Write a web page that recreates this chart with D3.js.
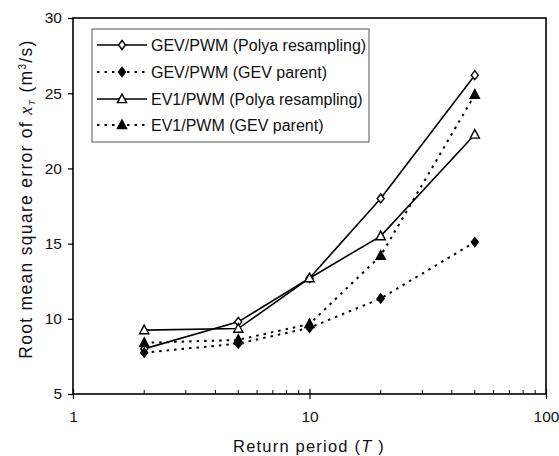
<!DOCTYPE html>
<html><head><meta charset="utf-8">
<script src="https://cdn.jsdelivr.net/npm/d3@7"></script>
<style>body{margin:0;background:#fff}svg{display:block}text{font-family:"Liberation Sans",Arial,sans-serif;fill:#111}</style>
</head><body>
<svg id="c" width="559" height="456"></svg>
<script>
const periods = [2, 5, 10, 20, 50];
const gevPolya = [8.0, 9.8, 12.7, 18.0, 26.2];
const gevParent = [7.75, 8.35, 9.4, 11.35, 15.1];
const ev1Polya = [9.25, 9.35, 12.7, 15.5, 22.25];
const ev1Parent = [8.4, 8.6, 9.65, 14.2, 24.9];
const seriesNames = ["GEV/PWM (Polya resampling)", "GEV/PWM (GEV parent)", "EV1/PWM (Polya resampling)", "EV1/PWM (GEV parent)"];
const xTicks = [1, 10, 100];
const yTicks = [5, 10, 15, 20, 25, 30];

const series = [
  {name: seriesNames[0], values: gevPolya, dashed: false, shape: "diamond", filled: false},
  {name: seriesNames[1], values: gevParent, dashed: true, shape: "diamond", filled: true},
  {name: seriesNames[2], values: ev1Polya, dashed: false, shape: "triangle", filled: false},
  {name: seriesNames[3], values: ev1Parent, dashed: true, shape: "triangle", filled: true}
];

const svg = d3.select("#c");
const L = 73, R = 546, T = 18, B = 394;
const x = d3.scaleLog().domain([1, 100]).range([L, R]);
const y = d3.scaleLinear().domain([5, 30]).range([B, T]);

// frame
svg.append("rect").attr("x", L).attr("y", T).attr("width", R - L).attr("height", B - T)
  .attr("fill", "none").attr("stroke", "#000").attr("stroke-width", 1.6);

// y axis
const yAxis = svg.append("g").attr("transform", `translate(${L},0)`)
  .call(d3.axisLeft(y).tickValues(yTicks).tickSize(5).tickPadding(6));
yAxis.select(".domain").remove();
yAxis.selectAll("text").attr("font-size", 15.5);
yAxis.selectAll("line").attr("stroke-width", 1.2);

// x axis
const minor = [];
[1, 10].forEach(d => { for (let k = 2; k <= 9; k++) minor.push(d * k); });
const xAxis = svg.append("g").attr("transform", `translate(0,${B})`)
  .call(d3.axisBottom(x).tickValues(xTicks).tickFormat(d3.format("d")).tickSize(5).tickPadding(12));
xAxis.select(".domain").remove();
xAxis.selectAll("text").attr("font-size", 15.5);
xAxis.selectAll("line").attr("y1", -5).attr("stroke-width", 1.2);
svg.append("g").selectAll("line").data(minor).join("line")
  .attr("x1", d => x(d)).attr("x2", d => x(d)).attr("y1", B).attr("y2", B - 4)
  .attr("stroke", "#000").attr("stroke-width", 1);

// titles
svg.append("text").attr("x", 309).attr("y", 452).attr("text-anchor", "middle").attr("font-size", 16.5)
  .attr("letter-spacing", 1.2)
  .html('Return period (<tspan font-style="italic">T</tspan> )');
const yt = svg.append("text").attr("transform", `translate(32,199) rotate(-90)`)
  .attr("text-anchor", "middle").attr("font-size", 17.5).attr("letter-spacing", 1.3);
yt.append("tspan").text("Root mean square error of ");
yt.append("tspan").attr("font-style", "italic").attr("font-family", "Liberation Serif, serif").attr("font-size", 18).text("x");
yt.append("tspan").attr("font-style", "italic").attr("font-size", 9).attr("dy", 3).text("T");
yt.append("tspan").attr("dy", -3).text("  (m");
yt.append("tspan").attr("font-size", 10).attr("dy", -6).text("3");
yt.append("tspan").attr("dy", 6).text("/s)");

function marker(g, shape, filled) {
  const path = shape === "diamond"
    ? "M0,-4.5L3.5,0L0,4.5L-3.5,0Z"
    : "M0,-5L4.6,3.6L-4.6,3.6Z";
  g.append("path").attr("d", path).attr("fill", filled ? "#000" : "#fff")
    .attr("stroke", "#000").attr("stroke-width", 1.4);
}

const line = d3.line().x(d => x(d[0])).y(d => y(d[1]));
series.forEach(s => {
  const pts = periods.map((p, i) => [p, s.values[i]]);
  svg.append("path").datum(pts).attr("d", line).attr("fill", "none").attr("stroke", "#000")
    .attr("stroke-width", s.dashed ? 2 : 1.6).attr("stroke-dasharray", s.dashed ? "2.5,5" : null);
});
series.forEach(s => {
  periods.forEach((p, i) => {
    const g = svg.append("g").attr("transform", `translate(${x(p)},${y(s.values[i])})`);
    marker(g, s.shape, s.filled);
  });
});

// legend
const lg = svg.append("g");
lg.append("rect").attr("x", 92).attr("y", 29).attr("width", 277).attr("height", 113)
  .attr("fill", "#fff").attr("stroke", "#555").attr("stroke-width", 1);
const rowY = [45, 72, 99, 125];
series.forEach((s, i) => {
  const yy = rowY[i];
  lg.append("line").attr("x1", 97).attr("x2", 147).attr("y1", yy).attr("y2", yy)
    .attr("stroke", "#000").attr("stroke-width", s.dashed ? 2 : 1.6).attr("stroke-dasharray", s.dashed ? "2.5,5" : null);
  marker(lg.append("g").attr("transform", `translate(122,${yy})`), s.shape, s.filled);
  lg.append("text").attr("x", 151).attr("y", yy + 5.5).attr("font-size", 16).text(s.name);
});
</script>
</body></html>
